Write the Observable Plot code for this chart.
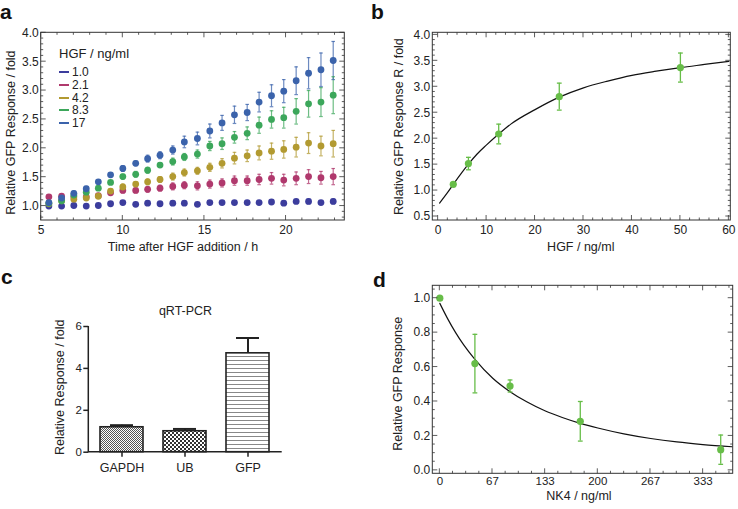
<!DOCTYPE html>
<html>
<head>
<meta charset="utf-8">
<script src="https://cdn.jsdelivr.net/npm/d3@7"></script>
<script src="https://cdn.jsdelivr.net/npm/@observablehq/plot@0.6"></script>
<style>
  body { margin: 0; background: #fff; }
  #root { position: relative; width: 738px; height: 509px; overflow: hidden; font-family: "Liberation Sans", Arial, sans-serif; color: #222; background: #fff; }
  .panel { position: absolute; }
  .plab { position: absolute; font-weight: bold; font-size: 21px; line-height: 1.15; color: #111; }
  #legend { position: absolute; left: 59px; top: 46px; font-size: 12px; color: #222; }
  #legend .ttl { font-size: 13px; line-height: 15px; margin-bottom: 5px; }
  #legend .row { display: flex; align-items: center; height: 12.7px; }
  #legend .sw { width: 10px; height: 0; border-top: 2px solid; margin-right: 3px; }
</style>
</head>
<body>
<svg width="0" height="0" style="position:absolute">
  <defs>
    <pattern id="patGAPDH" width="2" height="2" patternUnits="userSpaceOnUse">
      <rect width="2" height="2" fill="#fff"/>
      <rect x="0" y="0" width="1" height="1" fill="#555"/>
      <rect x="1" y="1" width="1" height="1" fill="#555"/>
    </pattern>
    <pattern id="patUB" width="4" height="4" patternUnits="userSpaceOnUse">
      <rect width="4" height="4" fill="#fff"/>
      <rect x="0" y="0" width="2" height="2" fill="#333"/>
      <rect x="2" y="2" width="2" height="2" fill="#333"/>
    </pattern>
    <pattern id="patGFP" width="4" height="4" patternUnits="userSpaceOnUse">
      <rect width="4" height="4" fill="#fff"/>
      <rect x="0" y="0" width="4" height="1" fill="#888"/>
    </pattern>
  </defs>
</svg>
<div id="root"></div>
<script>
// ---------- Panel a data ----------
const times = [5.47, 6.25, 7.0, 7.76, 8.5, 9.25, 10.0, 10.79, 11.52, 12.28, 13.06, 13.77, 14.57, 15.33, 16.08, 16.84, 17.62, 18.35, 19.11, 19.86, 20.62, 21.38, 22.14, 22.89];
const hgfLevels = ["1.0", "2.1", "4.2", "8.3", "17"];
const levelColors = ["#3c3d9d", "#b0396d", "#b29a31", "#3ca75b", "#3b63ab"];
const resp1_0 = [1.0, 1.0, 1.01, 1.0, 1.01, 1.04, 1.06, 1.03, 1.05, 1.04, 1.05, 1.05, 1.03, 1.06, 1.06, 1.06, 1.06, 1.06, 1.07, 1.05, 1.08, 1.08, 1.06, 1.08];
const err1_0 = [0.02, 0.02, 0.02, 0.02, 0.02, 0.02, 0.03, 0.02, 0.02, 0.02, 0.02, 0.02, 0.02, 0.02, 0.02, 0.02, 0.02, 0.02, 0.03, 0.03, 0.03, 0.04, 0.03, 0.04];
const resp2_1 = [1.16, 1.17, 1.16, 1.16, 1.18, 1.23, 1.27, 1.27, 1.29, 1.31, 1.34, 1.36, 1.35, 1.38, 1.40, 1.44, 1.44, 1.46, 1.48, 1.45, 1.48, 1.51, 1.49, 1.51];
const err2_1 = [0.02, 0.02, 0.02, 0.03, 0.03, 0.03, 0.04, 0.04, 0.05, 0.05, 0.06, 0.06, 0.07, 0.07, 0.07, 0.08, 0.08, 0.09, 0.10, 0.10, 0.11, 0.12, 0.11, 0.14];
const resp4_2 = [1.04, 1.09, 1.12, 1.14, 1.17, 1.26, 1.33, 1.38, 1.42, 1.46, 1.51, 1.58, 1.61, 1.67, 1.74, 1.83, 1.87, 1.92, 1.95, 1.98, 2.02, 2.09, 2.04, 2.08];
const err4_2 = [0.03, 0.03, 0.03, 0.03, 0.03, 0.04, 0.05, 0.04, 0.05, 0.05, 0.06, 0.06, 0.06, 0.07, 0.08, 0.10, 0.10, 0.12, 0.14, 0.15, 0.17, 0.18, 0.17, 0.23];
const resp8_3 = [1.05, 1.09, 1.19, 1.24, 1.31, 1.41, 1.51, 1.55, 1.62, 1.71, 1.77, 1.85, 1.90, 2.04, 2.08, 2.19, 2.26, 2.40, 2.50, 2.53, 2.64, 2.77, 2.80, 2.92];
const err8_3 = [0.03, 0.03, 0.03, 0.03, 0.03, 0.03, 0.04, 0.05, 0.05, 0.04, 0.06, 0.06, 0.07, 0.08, 0.10, 0.10, 0.11, 0.14, 0.15, 0.18, 0.22, 0.23, 0.25, 0.32];
const resp17 = [1.06, 1.14, 1.22, 1.30, 1.42, 1.54, 1.65, 1.74, 1.82, 1.88, 1.97, 2.11, 2.17, 2.30, 2.44, 2.58, 2.62, 2.80, 2.91, 2.99, 3.17, 3.30, 3.36, 3.52];
const err17 = [0.03, 0.03, 0.04, 0.04, 0.03, 0.03, 0.05, 0.04, 0.06, 0.06, 0.07, 0.10, 0.11, 0.12, 0.13, 0.15, 0.14, 0.17, 0.19, 0.20, 0.24, 0.27, 0.29, 0.33];
const aTicksX = [5, 10, 15, 20];
const aTicksY = [1.0, 1.5, 2.0, 2.5, 3.0, 3.5, 4.0];

// ---------- Panel b data ----------
const hgfConc = [3.125, 6.25, 12.5, 25, 50];
const hgfResp = [1.12, 1.52, 2.09, 2.81, 3.37];
const hgfErr = [0.03, 0.12, 0.19, 0.26, 0.28];
const fitBx = [0.3, 2, 3.125, 5, 6.25, 8, 10, 12.5, 15, 20, 25, 30, 35, 40, 45, 50, 55, 60];
const fitBy = [0.76, 0.97, 1.12, 1.36, 1.51, 1.70, 1.88, 2.09, 2.28, 2.56, 2.80, 2.98, 3.11, 3.22, 3.30, 3.37, 3.43, 3.49];
const bTicksX = [0, 10, 20, 30, 40, 50, 60];
const bTicksY = [0.5, 1.0, 1.5, 2.0, 2.5, 3.0, 3.5, 4.0];

// ---------- Panel c data ----------
const genes = ["GAPDH", "UB", "GFP"];
const qpcrVal = [1.19, 1.0, 4.72];
const qpcrErr = [0.10, 0.11, 0.73];
const cTicksY = [0, 2, 4, 6];

// ---------- Panel d data ----------
const nk4Conc = [0, 44.4, 88.9, 177.8, 355.6];
const nk4Resp = [1.0, 0.62, 0.49, 0.285, 0.12];
const nk4Err = [0, 0.17, 0.035, 0.115, 0.085];
const fitDx = [0, 10, 20, 30, 44.4, 67, 88.9, 110, 133, 155, 177.8, 200, 233, 267, 300, 333, 370];
const fitDy = [0.97, 0.88, 0.80, 0.73, 0.645, 0.535, 0.457, 0.398, 0.346, 0.307, 0.273, 0.246, 0.212, 0.185, 0.165, 0.150, 0.137];
const dTicksX = [0, 200/3, 400/3, 200, 800/3, 1000/3];
const dTickLabels = ["0", "67", "133", "200", "267", "333"];
const dTicksY = [0.0, 0.2, 0.4, 0.6, 0.8, 1.0];

const GREEN = "#67bd48";
const FONT = "'Liberation Sans', Arial, Helvetica, sans-serif";

// ---------- helpers ----------
const capSym = { draw(ctx, size) { const r = Math.sqrt(size / Math.PI); ctx.moveTo(-r, 0); ctx.lineTo(r, 0); } };

function minorTicks(lo, hi, step, majorStep) {
  return d3.range(Math.round((hi - lo) / step) + 1).map(i => +(lo + i * step).toFixed(6))
    .filter(v => Math.abs(v / majorStep - Math.round(v / majorStep)) > 1e-6);
}

function boxTicks(opt) {
  return (index, scales, values, dims) => {
    const {width, height, marginTop, marginRight, marginBottom, marginLeft} = dims;
    const L = marginLeft, R = width - marginRight, T = marginTop, B = height - marginBottom;
    let d = "";
    const addX = (vals, len) => vals.forEach(v => { const X = scales.x(v); d += `M${X},${B}V${B - len}M${X},${T}V${T + len}`; });
    const addY = (vals, len) => vals.forEach(v => { const Y = scales.y(v); d += `M${L},${Y}H${L + len}M${R},${Y}H${R - len}`; });
    addX(opt.xMajor, 5); addX(opt.xMinor, 2.5); addY(opt.yMajor, 5); addY(opt.yMinor, 2.5);
    const g = d3.create("svg:g");
    g.append("path").attr("d", d).attr("fill", "none").attr("stroke", "#333").attr("stroke-width", 0.8);
    g.append("rect").attr("x", L).attr("y", T).attr("width", R - L).attr("height", B - T)
      .attr("fill", "none").attr("stroke", "#333").attr("stroke-width", 1);
    return g.node();
  };
}

const baseStyle = {fontFamily: FONT, fontSize: "12px", color: "#222", background: "transparent", overflow: "visible"};
const root = document.getElementById("root");
function place(el, left, top) {
  const wrap = document.createElement("div");
  wrap.className = "panel";
  wrap.style.left = left + "px";
  wrap.style.top = top + "px";
  wrap.appendChild(el);
  root.appendChild(wrap);
}
const yLabel = (txt, dx, dy) => Plot.text([txt], {frameAnchor: "left", textAnchor: "middle", rotate: -90, dx, dy, fontSize: 12.5, fill: "#222"});
const xLabel = (txt, dx, dy) => Plot.text([txt], {frameAnchor: "bottom", textAnchor: "middle", dx, dy, fontSize: 12.5, fill: "#222"});

// ---------- Panel a ----------
const seriesA = [resp1_0, resp2_1, resp4_2, resp8_3, resp17];
const errsA = [err1_0, err2_1, err4_2, err8_3, err17];
const rowsA = [];
hgfLevels.forEach((lvl, si) => times.forEach((t, i) => rowsA.push({t, y: seriesA[si][i], e: errsA[si][i], s: lvl})));

const plotA = Plot.plot({
  width: 370, height: 260,
  marginLeft: 40.7, marginRight: 25.7, marginTop: 32.3, marginBottom: 40,
  x: {domain: [5, 23.6]},
  y: {domain: [0.75, 4.0]},
  color: {domain: hgfLevels, range: levelColors},
  style: baseStyle,
  marks: [
    Plot.ruleX(rowsA, {x: "t", y1: d => d.y - d.e, y2: d => d.y + d.e, stroke: "s", strokeOpacity: 0.75, strokeWidth: 1.2}),
    Plot.dot(rowsA, {x: "t", y: d => d.y + d.e, symbol: capSym, r: 1.8, stroke: "s", fill: "none", strokeOpacity: 0.75, strokeWidth: 1.2}),
    Plot.dot(rowsA, {x: "t", y: d => d.y - d.e, symbol: capSym, r: 1.8, stroke: "s", fill: "none", strokeOpacity: 0.75, strokeWidth: 1.2}),
    Plot.dot(rowsA, {x: "t", y: "y", r: 3.4, fill: "s", stroke: "none"}),
    boxTicks({xMajor: aTicksX, xMinor: minorTicks(5, 23, 1, 5), yMajor: aTicksY, yMinor: minorTicks(0.8, 4.0, 0.1, 0.5)}),
    Plot.axisX({ticks: aTicksX, tickSize: 0, tickPadding: 5, label: null, tickFormat: d => String(d)}),
    Plot.axisY({ticks: aTicksY, tickSize: 0, tickPadding: 2.5, label: null, tickFormat: d3.format(".1f")}),
    xLabel("Time after HGF addition / h", -10, 30.8),
    yLabel("Relative GFP Response / fold", -30, 6)
  ]
});
place(plotA, 0, 0);

// legend for panel a
const leg = document.createElement("div");
leg.id = "legend";
leg.innerHTML = `<div class="ttl">HGF / ng/ml</div>` +
  hgfLevels.map((l, i) => `<div class="row"><span class="sw" style="border-color:${levelColors[i]}"></span><span>${l}</span></div>`).join("");
root.appendChild(leg);

// ---------- Panel b ----------
const rowsB = hgfConc.map((x, i) => ({x, y: hgfResp[i], e: hgfErr[i]}));
const fitB = fitBx.map((x, i) => ({x, y: fitBy[i]}));
const plotB = Plot.plot({
  width: 368, height: 260,
  marginLeft: 62.3, marginRight: 7.7, marginTop: 32.3, marginBottom: 40,
  x: {domain: [-1.1, 60.4]},
  y: {domain: [0.423, 4.04]},
  style: baseStyle,
  marks: [
    Plot.line(fitB, {x: "x", y: "y", curve: "monotone-x", stroke: "#111", strokeWidth: 1.2}),
    Plot.ruleX(rowsB, {x: "x", y1: d => d.y - d.e, y2: d => d.y + d.e, stroke: GREEN, strokeWidth: 1.3}),
    Plot.dot(rowsB, {x: "x", y: d => d.y + d.e, symbol: capSym, r: 2.4, stroke: GREEN, fill: "none", strokeWidth: 1.3}),
    Plot.dot(rowsB, {x: "x", y: d => d.y - d.e, symbol: capSym, r: 2.4, stroke: GREEN, fill: "none", strokeWidth: 1.3}),
    Plot.dot(rowsB, {x: "x", y: "y", r: 3.6, fill: GREEN, stroke: "none"}),
    boxTicks({xMajor: bTicksX, xMinor: minorTicks(0, 60, 2, 10), yMajor: bTicksY, yMinor: minorTicks(0.5, 4.0, 0.1, 0.5)}),
    Plot.axisX({ticks: bTicksX, tickSize: 0, tickPadding: 5, label: null, tickFormat: d => String(d)}),
    Plot.axisY({ticks: bTicksY, tickSize: 0, tickPadding: 2.5, label: null, tickFormat: d3.format(".1f")}),
    xLabel("HGF / ng/ml", -1, 30.8),
    yLabel("Relative GFP Response R / fold", -34.3, 0)
  ]
});
place(plotB, 370, 0);

// ---------- Panel c ----------
const rowsC = genes.map((g, i) => ({g, v: qpcrVal[i], e: qpcrErr[i]}));
const plotC = Plot.plot({
  width: 370, height: 249,
  marginLeft: 88.3, marginRight: 88.3, marginTop: 66, marginBottom: 57.3,
  x: {domain: genes, paddingInner: 0.316, paddingOuter: 0.186},
  y: {domain: [0, 6]},
  color: {domain: genes, range: ["url(#patGAPDH)", "url(#patUB)", "url(#patGFP)"]},
  style: baseStyle,
  marks: [
    Plot.ruleX(rowsC, {x: "g", y1: "v", y2: d => d.v + d.e, stroke: "#222", strokeWidth: 2}),
    Plot.tickY(rowsC, {x: "g", y: d => d.v + d.e, stroke: "#222", strokeWidth: 2, insetLeft: 10, insetRight: 10}),
    Plot.barY(rowsC, {x: "g", y: "v", fill: "g", stroke: "#222", strokeWidth: 1.6}),
    (index, scales, values, dims) => {
      const L = dims.marginLeft, R = dims.width - dims.marginRight;
      const p = d3.create("svg:path")
        .attr("d", `M${L},${scales.y(6)}V${scales.y(0)}H${R}`)
        .attr("fill", "none").attr("stroke", "#222").attr("stroke-width", 1.5);
      return p.node();
    },
    Plot.axisX({tickSize: 5, tickPadding: 6, label: null, fontSize: 12.5, strokeWidth: 1.5}),
    Plot.axisY({ticks: cTicksY, tickSize: 5, tickPadding: 2, label: null, fontSize: 11.5, strokeWidth: 1.5, tickFormat: d => String(d)}),
    Plot.text(["qRT-PCR"], {frameAnchor: "top", textAnchor: "middle", dy: -20, fontSize: 12.5, fill: "#222"}),
    yLabel("Relative Response / fold", -29.3, -2)
  ]
});
place(plotC, 0, 260);

// ---------- Panel d ----------
const rowsD = nk4Conc.map((x, i) => ({x, y: nk4Resp[i], e: nk4Err[i]}));
const rowsDerr = rowsD.filter(d => d.e > 0);
const fitD = fitDx.map((x, i) => ({x, y: fitDy[i]}));
const plotD = Plot.plot({
  width: 368, height: 249,
  marginLeft: 62.3, marginRight: 5.3, marginTop: 25.3, marginBottom: 35.7,
  x: {domain: [-8.9, 371.4]},
  y: {domain: [-0.02, 1.072]},
  style: baseStyle,
  marks: [
    Plot.line(fitD, {x: "x", y: "y", curve: "monotone-x", stroke: "#111", strokeWidth: 1.2}),
    Plot.ruleX(rowsDerr, {x: "x", y1: d => d.y - d.e, y2: d => d.y + d.e, stroke: GREEN, strokeWidth: 1.3}),
    Plot.dot(rowsDerr, {x: "x", y: d => d.y + d.e, symbol: capSym, r: 2.4, stroke: GREEN, fill: "none", strokeWidth: 1.3}),
    Plot.dot(rowsDerr, {x: "x", y: d => d.y - d.e, symbol: capSym, r: 2.4, stroke: GREEN, fill: "none", strokeWidth: 1.3}),
    Plot.dot(rowsD, {x: "x", y: "y", r: 3.6, fill: GREEN, stroke: "none"}),
    boxTicks({xMajor: dTicksX, xMinor: d3.range(1, 23).map(i => i * 200 / 12).filter((v, i) => (i + 1) % 4 !== 0), yMajor: dTicksY, yMinor: minorTicks(0, 1.05, 0.05, 0.2)}),
    Plot.axisX({ticks: dTicksX, tickSize: 0, tickPadding: 3.5, label: null, fontSize: 11.5, tickFormat: (d, i) => dTickLabels[i]}),
    Plot.axisY({ticks: dTicksY, tickSize: 0, tickPadding: 2.5, label: null, tickFormat: d3.format(".1f")}),
    xLabel("NK4 / ng/ml", -4, 26),
    yLabel("Relative GFP Response", -34.8, 4)
  ]
});
place(plotD, 370, 260);

// ---------- panel letters ----------
[["a", 0, 0], ["b", 371, 0], ["c", 1, 265], ["d", 373, 268]].forEach(([t, l, tp]) => {
  const s = document.createElement("div");
  s.className = "plab";
  s.style.left = l + "px";
  s.style.top = tp + "px";
  s.textContent = t;
  root.appendChild(s);
});
</script>
</body>
</html>
